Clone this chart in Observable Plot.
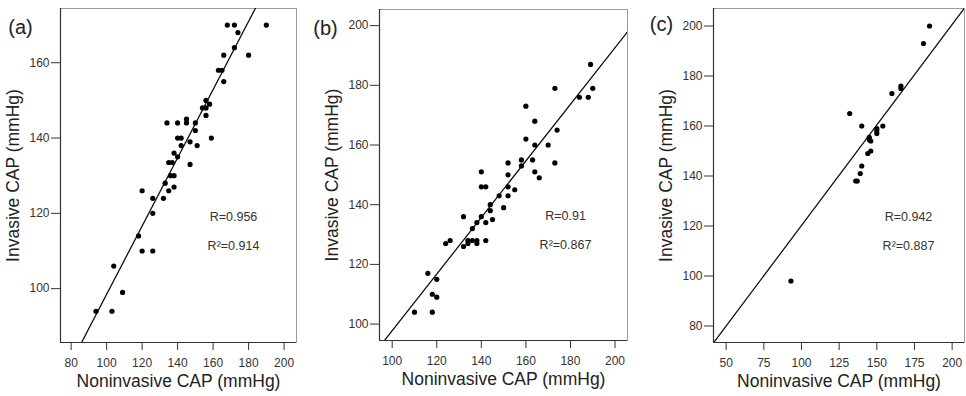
<!DOCTYPE html>
<html><head><meta charset="utf-8">
<script src="https://cdn.jsdelivr.net/npm/d3@7"></script>
<script src="https://cdn.jsdelivr.net/npm/@observablehq/plot@0.6"></script>
<style>
html,body{margin:0;padding:0;background:#fff;}
#fig{position:relative;width:966px;height:396px;overflow:hidden;background:#fff;}
#fig > div{position:absolute;top:0;}
</style></head><body><div id="fig"></div>
<script>
// ---- Panel (a) ----
const aNoninvasive = [168,172,174,190,172,166,180,163,165,166,156,158,154,156,156,150,145,145,140,134,150,140,142,159,147,142,151,138,140,135,137,147,136,138,133,135,138,120,126,132,126,118,120,126,104,109,94,103];
const aInvasive    = [170,170,168,170,164,162,162,158,158,155,150,149,148,148,146,144,145,144,144,144,142,140,140,140,139,138,138,136,135,133.5,133.5,133,130,130,128,126,127,126,124,124,120,114,110,110,106,99,94,94];
// ---- Panel (b) ----
const bNoninvasive = [189,173,190,184,188,160,164,174,160,164,170,158,163,173,152,158,164,166,140,152,140,142,152,155,148,152,150,144,144,140,145,132,142,138,136,134,136,138,142,134,138,124,126,132,116,120,118,120,110,118];
const bInvasive    = [187,179,179,176,176,173,168,165,162,160,160,155,155,154,154,153,151,149,151,150,146,146,146,145,143,143,139,140,138,136,135,136,134,134,132,128,128,128,128,127,127,127,128,126,117,115,110,109,104,104];
// ---- Panel (c) ----
const cNoninvasive = [185,181,166,166,160,132,140,154,150,150,150,145,145,146,146,144,140,139,136,137,93];
const cInvasive    = [200,193,176,175,173,165,160,160,159,158,157,155.5,154.5,154,150,149,144,141,138,138,98];

// tick labels
const aXTicks = [80,100,120,140,160,180,200];
const aYTicks = [100,120,140,160];
const bXTicks = [100,120,140,160,180,200];
const bYTicks = [100,120,140,160,180,200];
const cXTicks = [50,75,100,125,150,175,200];
const cYTicks = [80,100,120,140,160,180,200];

// fitted lines (slope, intercept) and statistics
const fitSlope     = [0.906, 0.948, 0.804];
const fitIntercept = [7.9, 3.0, 39.8];
const rText  = ["R=0.956", "R=0.91", "R=0.942"];
const r2Text = ["R\u00B2=0.914", "R\u00B2=0.867", "R\u00B2=0.887"];
const panelLabels = ["(a)", "(b)", "(c)"];
const xTitle = "Noninvasive CAP (mmHg)";
const yTitle = "Invasive CAP (mmHg)";

const panels = [
  {x: aNoninvasive, y: aInvasive, xt: aXTicks, yt: aYTicks, xd: [74, 207], yd: [85.7, 174.4],
   left: 0, width: 310, ml: 60, mr: 14, mt: 8, mb: 54, lab: [-40, 11], rdx: -63},
  {x: bNoninvasive, y: bInvasive, xt: bXTicks, yt: bYTicks, xd: [94.3, 205.6], yd: [94.5, 205.4],
   left: 310, width: 325, ml: 69, mr: 8, mt: 9, mb: 56, lab: [-54, 11], rdx: -62},
  {x: cNoninvasive, y: cInvasive, xt: cXTicks, yt: cYTicks, xd: [41.6, 208.2], yd: [73.4, 207],
   left: 635, width: 331, ml: 78, mr: 2, mt: 8, mb: 54, lab: [-52, 8], rdx: -56}
];

const font = "'Liberation Sans', Arial, Helvetica, sans-serif";
const fig = document.getElementById("fig");

panels.forEach((p, i) => {
  const pts = p.x.map((v, k) => ({x: v, y: p.y[k]}));
  const fit = p.xd.map(v => ({x: v, y: fitSlope[i] * v + fitIntercept[i]}));
  const chart = Plot.plot({
    width: p.width, height: 396,
    marginLeft: p.ml, marginRight: p.mr, marginTop: p.mt, marginBottom: p.mb,
    style: {fontFamily: font, color: "#222", background: "transparent", overflow: "visible"},
    x: {domain: p.xd, ticks: p.xt},
    y: {domain: p.yd, ticks: p.yt},
    marks: [
      Plot.frame({stroke: "#9a9a9a", strokeWidth: 1}),
      Plot.ruleX([p.xd[0]], {stroke: "#333", strokeWidth: 1.2}),
      Plot.ruleY([p.yd[0]], {stroke: "#333", strokeWidth: 1.2}),
      Plot.axisX({ticks: p.xt, tickSize: 8, tickPadding: 8, fontSize: 12, label: null, stroke: "#333", fill: "#333"}),
      Plot.axisY({ticks: p.yt, tickSize: 9, tickPadding: 2, fontSize: 12, label: null, stroke: "#333", fill: "#333"}),
      Plot.line(fit, {x: "x", y: "y", stroke: "#111", strokeWidth: 1.3, clip: true}),
      Plot.dot(pts, {x: "x", y: "y", r: 2.6, fill: "#000", stroke: "none"}),
      Plot.text([rText[i]], {text: d => d, frameAnchor: "right", textAnchor: "middle", dx: p.rdx, dy: 41, fontSize: 12.5, fill: "#333"}),
      Plot.text([r2Text[i]], {text: d => d, frameAnchor: "right", textAnchor: "middle", dx: p.rdx, dy: 70, fontSize: 12.5, fill: "#333"}),
      Plot.text([xTitle], {text: d => d, frameAnchor: "bottom", textAnchor: "middle", dy: 44, fontSize: 17.5, fill: "#222"}),
      Plot.text([yTitle], {text: d => d, frameAnchor: "left", textAnchor: "middle", dx: -47, rotate: -90, fontSize: 17.5, fill: "#222"}),
      Plot.text([panelLabels[i]], {text: d => d, frameAnchor: "top-left", dx: p.lab[0], dy: p.lab[1], fontSize: 20, fill: "#222", textAnchor: "middle"})
    ]
  });
  const holder = document.createElement("div");
  holder.style.left = p.left + "px";
  holder.appendChild(chart);
  fig.appendChild(holder);
});
</script>
</body></html>
